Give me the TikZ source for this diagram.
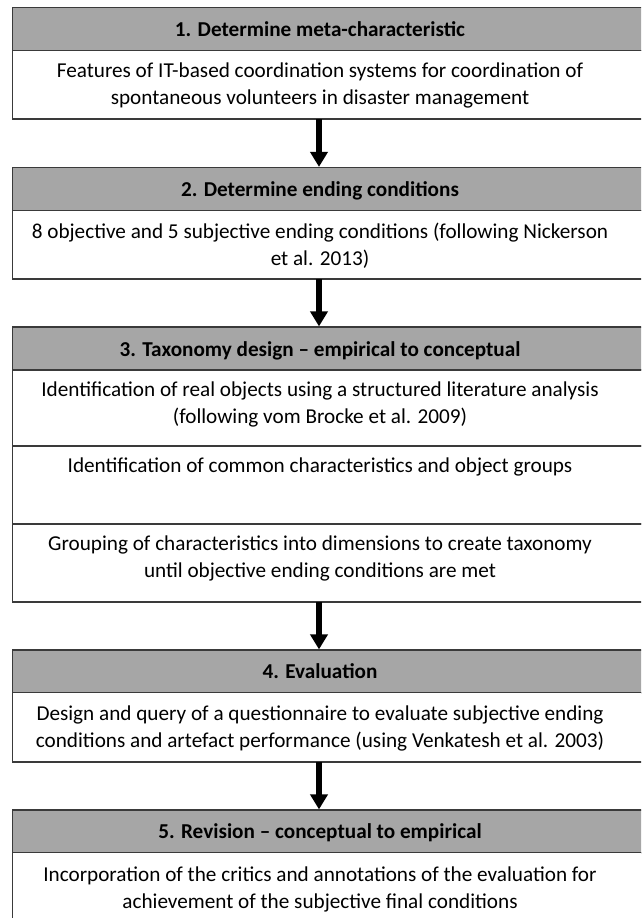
\documentclass[tikz,border=0pt]{standalone}
\usepackage{fontspec}
\setmainfont{Carlito}
\usetikzlibrary{arrows.meta}
\definecolor{hdrgray}{HTML}{A6A6A6}
\definecolor{edgegray}{HTML}{3A3A3A}
\begin{document}
\begin{tikzpicture}[x=1pt,y=-1pt,
  part/.style={draw=edgegray, line width=1.2pt, rectangle, anchor=north west,
    minimum width=647.5pt, inner sep=0pt, outer sep=0pt},
  hdr/.style={part, fill=hdrgray, minimum height=43pt},
  bodybox/.style={part, fill=white},
  hdrtext/.style={font=\fontsize{21.2}{27}\selectfont\bfseries, inner sep=0pt, anchor=base},
  bodytext/.style={font=\fontsize{21.2}{27}\selectfont, align=center, inner sep=0pt, anchor=north},
  flow/.style={line width=6pt, draw=black, -{Triangle[length=15pt,width=17pt]}, shorten >=0.6pt}
]
\useasboundingbox (0,0) rectangle (641,918);
\clip (0,0) rectangle (641,918);
\fill[white] (0,0) rectangle (641,918);
\coordinate (ax) at (319,0);
\coordinate (tx) at (320,0);

% Box 1
\node[hdr] (h1) at (12.5,7.5) {};
\node[bodybox, minimum height=68.5pt] (b1) at (12.5,50.5) {};
\node[hdrtext] (t1) at (320,36.5) {1. Determine meta-characteristic};
\node[bodytext] (x1) at (320,62.5) {Features of IT-based coordination systems for coordination of\\spontaneous volunteers in disaster management};

% Box 2
\node[hdr] (h2) at (12.5,167.5) {};
\node[bodybox, minimum height=68.5pt] (b2) at (12.5,210.5) {};
\node[hdrtext] (t2) at (320,196.5) {2. Determine ending conditions};
\node[bodytext] (x2) at (320,222.5) {8 objective and 5 subjective ending conditions (following Nickerson\\et al. 2013)};

% Box 3
\node[hdr] (h3) at (12.5,327) {};
\node[bodybox, minimum height=76pt] (b3a) at (12.5,370) {};
\node[bodybox, minimum height=78pt] (b3b) at (12.5,446) {};
\node[bodybox, minimum height=78pt] (b3c) at (12.5,524) {};
\node[hdrtext] (t3) at (320,356) {3. Taxonomy design – empirical to conceptual};
\node[bodytext] (x3a) at (320,382) {Identification of real objects using a structured literature analysis\\(following vom Brocke et al. 2009)};
\node[bodytext] (x3b) at (320,458) {Identification of common characteristics and object groups};
\node[bodytext] (x3c) at (320,536) {Grouping of characteristics into dimensions to create taxonomy\\until objective ending conditions are met};

% Box 4
\node[hdr] (h4) at (12.5,650) {};
\node[bodybox, minimum height=69.5pt] (b4) at (12.5,692.5) {};
\node[hdrtext] (t4) at (320,678.5) {4. Evaluation};
\node[bodytext] (x4) at (320,705.5) {Design and query of a questionnaire to evaluate subjective ending\\conditions and artefact performance (using Venkatesh et al. 2003)};

% Box 5
\node[hdr] (h5) at (12.5,810) {};
\node[bodybox, minimum height=80pt] (b5) at (12.5,852.5) {};
\node[hdrtext] (t5) at (320,838.5) {5. Revision – conceptual to empirical};
\node[bodytext] (x5) at (320,867) {Incorporation of the critics and annotations of the evaluation for\\achievement of the subjective final conditions};

% Arrows
\draw[flow] (b1.south -| ax) -- (h2.north -| ax);
\draw[flow] (b2.south -| ax) -- (h3.north -| ax);
\draw[flow] (b3c.south -| ax) -- (h4.north -| ax);
\draw[flow] (b4.south -| ax) -- (h5.north -| ax);
\end{tikzpicture}
\end{document}
